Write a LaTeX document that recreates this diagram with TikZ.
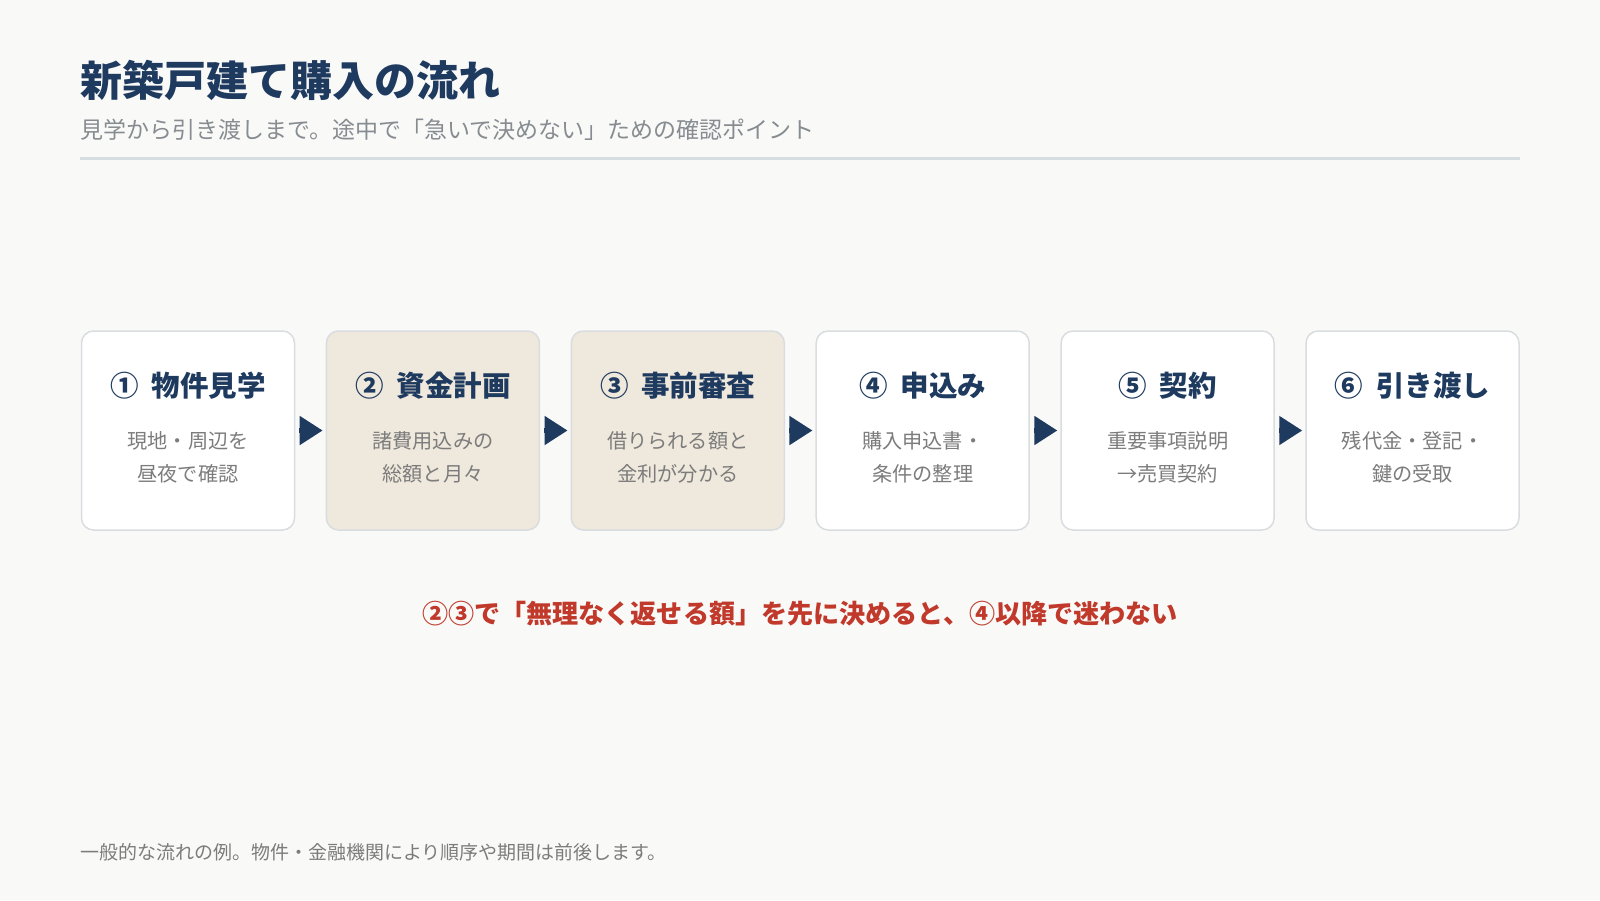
\documentclass[tikz,border=0pt]{standalone}
\usepackage{fontspec}
\setmainfont{Noto Sans CJK JP}
\usetikzlibrary{arrows.meta}
\definecolor{bgc}{HTML}{F9F9F8}
\definecolor{navy}{HTML}{1E3A5F}
\definecolor{subgray}{HTML}{878C91}
\definecolor{descgray}{HTML}{7C7C7C}
\definecolor{rulec}{HTML}{D6DDE2}
\definecolor{boxline}{HTML}{D9DDE0}
\definecolor{beige}{HTML}{EFE8DC}
\definecolor{redc}{HTML}{C0392B}
\newcommand{\numgap}{\hspace{0.45em}}
\tikzset{
  stepbox/.style={draw=boxline, line width=1.5pt, rounded corners=12pt, fill=white,
    minimum width=213pt, minimum height=199pt, inner sep=0pt},
  hlbox/.style={stepbox, fill=beige},
  steptitle/.style={anchor=base, font=\fontsize{28.5}{32}\selectfont\bfseries, text=navy, inner sep=0pt},
  stepdesc/.style={anchor=base, font=\fontsize{20.2}{33}\selectfont, text=descgray, inner sep=0pt, align=center},
  flowarrow/.style={draw=navy, line width=5pt, -{Triangle[length=23pt,width=28pt]}, shorten <=4pt, shorten >=3pt},
}
\begin{document}
\begin{tikzpicture}[x=1pt,y=-1pt]
\path[fill=bgc] (0,0) rectangle (1600,900);
\useasboundingbox (0,0) rectangle (1600,900);
% header
\node[anchor=base west, inner sep=0pt, font=\fontsize{42}{46}\selectfont\bfseries, text=navy] (title) at (80,96) {新築戸建て購入の流れ};
\node[anchor=base west, inner sep=0pt, font=\fontsize{23}{26}\selectfont, text=subgray] (subtitle) at (80,138) {見学から引き渡しまで。途中で「急いで決めない」ための確認ポイント};
\coordinate (rl) at (80,158);
\coordinate (rr) at (1520,158);
\draw[rulec, line width=3pt] (rl) -- (rr);
% boxes
\foreach \i/\sty/\t/\da/\db in {
  1/stepbox/{①\numgap 物件見学}/{現地・周辺を}/{昼夜で確認},
  2/hlbox/{②\numgap 資金計画}/{諸費用込みの}/{総額と月々},
  3/hlbox/{③\numgap 事前審査}/{借りられる額と}/{金利が分かる},
  4/stepbox/{④\numgap 申込み}/{購入申込書・}/{条件の整理},
  5/stepbox/{⑤\numgap 契約}/{重要事項説明}/{→売買契約},
  6/stepbox/{⑥\numgap 引き渡し}/{残代金・登記・}/{鍵の受取}}{
  \pgfmathsetmacro{\cx}{81.5+106.5+(\i-1)*244.9}
  \node[\sty] (b\i) at (\cx,430.5) {};
  \node[steptitle] (t\i) at (\cx,396) {\t};
  \node[stepdesc] (da\i) at (\cx,448.5) {\da};
  \node[stepdesc] (db\i) at (\cx,481.5) {\db};
}
\foreach \i [evaluate=\i as \j using int(\i+1)] in {1,...,5}{
  \draw[flowarrow] (b\i.east) -- (b\j.west);
}
% note
\node[anchor=base, inner sep=0pt, font=\fontsize{26.1}{30}\selectfont\bfseries, text=redc] (note) at (800,623) {②③で「無理なく返せる額」を先に決めると、④以降で迷わない};
\node[anchor=base west, inner sep=0pt, font=\fontsize{19}{22}\selectfont, text=descgray] (foot) at (80,859) {一般的な流れの例。物件・金融機関により順序や期間は前後します。};
\end{tikzpicture}
\end{document}
